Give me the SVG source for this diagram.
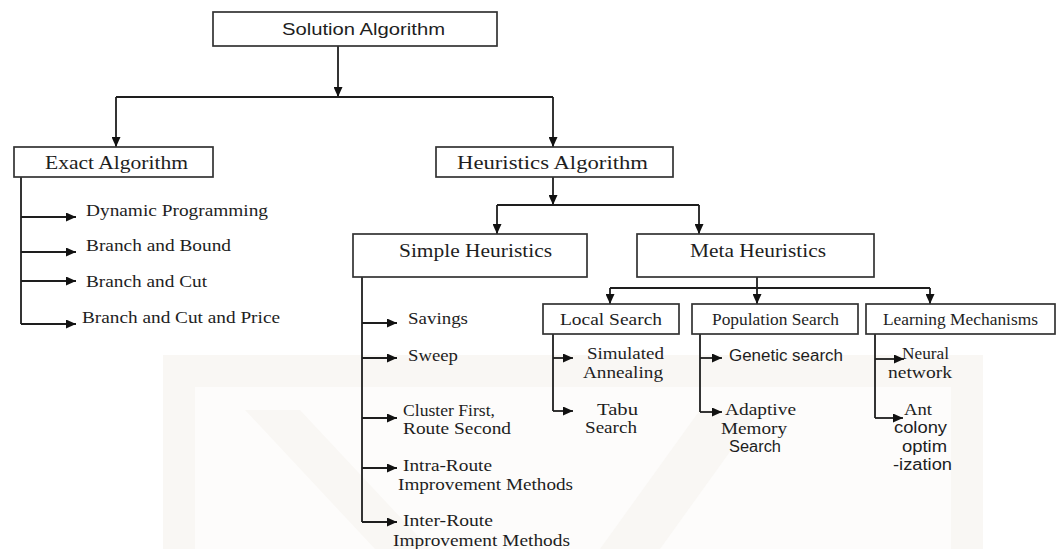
<svg xmlns="http://www.w3.org/2000/svg" width="1056" height="549" viewBox="0 0 1056 549">
<defs>
<marker id="ah" markerUnits="userSpaceOnUse" markerWidth="11" markerHeight="9" refX="10" refY="4.5" orient="auto">
<path d="M0,0 L10,4.5 L0,9 z" fill="#111"/>
</marker>
<style>
.box{fill:#fff;stroke:#333;stroke-width:1.7}
.ln{fill:none;stroke:#1e1e1e;stroke-width:1.8}
.ar{fill:none;stroke:#1e1e1e;stroke-width:1.8;marker-end:url(#ah)}
.s{font-family:"Liberation Serif","Times New Roman",serif;font-size:17.5px;fill:#1e1e1e}
.t{font-family:"Liberation Serif","Times New Roman",serif;font-size:16px;fill:#1e1e1e}
.b{font-family:"Liberation Serif","Times New Roman",serif;font-size:18px;fill:#1e1e1e}
.ss{font-family:"Liberation Sans",Arial,sans-serif;font-size:16px;fill:#1e1e1e}
.wm{fill:#f9f7f4}
.wm2{fill:#fdfcfb}
</style>
</defs>
<rect width="1056" height="549" fill="#fff"/>
<g id="watermark">
<rect class="wm" x="163" y="355" width="820" height="194"/>
<rect class="wm2" x="195" y="387" width="756" height="162"/>
<polygon class="wm" points="245,410 300,410 430,549 375,549"/>
<polygon class="wm" points="600,549 700,410 760,410 660,549"/>
</g>
<g id="connectors">
<path class="ar" d="M338 46 V97"/>
<path class="ln" d="M116 97 H553"/>
<path class="ar" d="M116 97 V147"/>
<path class="ar" d="M553 97 V147"/>
<path class="ln" d="M21 177 V324"/>
<path class="ar" d="M21 217 H76"/>
<path class="ar" d="M21 252 H76"/>
<path class="ar" d="M21 281 H76"/>
<path class="ar" d="M21 324 H76"/>
<path class="ar" d="M553 177 V205"/>
<path class="ln" d="M497 205 H699"/>
<path class="ar" d="M497 205 V234"/>
<path class="ar" d="M699 205 V234"/>
<path class="ln" d="M362 277 V522"/>
<path class="ar" d="M362 323 H397"/>
<path class="ar" d="M362 358 H397"/>
<path class="ar" d="M362 418 H397"/>
<path class="ar" d="M362 468 H397"/>
<path class="ar" d="M362 522 H397"/>
<path class="ar" d="M757 277 V304"/>
<path class="ln" d="M610 288 H930"/>
<path class="ar" d="M610 288 V304"/>
<path class="ar" d="M930 288 V304"/>
<path class="ln" d="M553 334 V411"/>
<path class="ar" d="M553 358 H573"/>
<path class="ar" d="M553 411 H573"/>
<path class="ln" d="M700 334 V412"/>
<path class="ar" d="M700 358 H722"/>
<path class="ar" d="M700 412 H722"/>
<path class="ln" d="M875 334 V418"/>
<path class="ar" d="M875 359 H904"/>
<path class="ar" d="M875 418 H903"/>
</g>
<g id="solution">
<rect class="box" x="213" y="12" width="284" height="34"/>
<text class="ss" x="282" y="35" textLength="163" lengthAdjust="spacingAndGlyphs">Solution Algorithm</text>
</g>
<g id="exact">
<rect class="box" x="14" y="147" width="199" height="30"/>
<text class="b" x="45" y="169" textLength="143" lengthAdjust="spacingAndGlyphs">Exact Algorithm</text>
</g>
<g id="heuristics">
<rect class="box" x="436" y="147" width="237" height="30"/>
<text class="b" x="457" y="169" textLength="191" lengthAdjust="spacingAndGlyphs">Heuristics Algorithm</text>
</g>
<g id="exact-items">
<text class="s" x="86" y="216" textLength="182" lengthAdjust="spacingAndGlyphs">Dynamic Programming</text>
<text class="s" x="86" y="251" textLength="145" lengthAdjust="spacingAndGlyphs">Branch and Bound</text>
<text class="s" x="86" y="287" textLength="121" lengthAdjust="spacingAndGlyphs">Branch and Cut</text>
<text class="s" x="82" y="323" textLength="198" lengthAdjust="spacingAndGlyphs">Branch and Cut and Price</text>
</g>
<g id="simple">
<rect class="box" x="353" y="234" width="234" height="43"/>
<text class="b" x="399" y="257" textLength="153" lengthAdjust="spacingAndGlyphs">Simple Heuristics</text>
</g>
<g id="meta">
<rect class="box" x="637" y="234" width="237" height="43"/>
<text class="b" x="690" y="257" textLength="136" lengthAdjust="spacingAndGlyphs">Meta Heuristics</text>
</g>
<g id="simple-items">
<text class="s" x="408" y="324" textLength="60" lengthAdjust="spacingAndGlyphs">Savings</text>
<text class="s" x="408" y="361" textLength="50" lengthAdjust="spacingAndGlyphs">Sweep</text>
<text class="s" x="403" y="416" textLength="92" lengthAdjust="spacingAndGlyphs">Cluster First,</text>
<text class="s" x="403" y="434" textLength="108" lengthAdjust="spacingAndGlyphs">Route Second</text>
<text class="s" x="403" y="471" textLength="89" lengthAdjust="spacingAndGlyphs">Intra-Route</text>
<text class="s" x="398" y="490" textLength="175" lengthAdjust="spacingAndGlyphs">Improvement Methods</text>
<text class="s" x="403" y="526" textLength="90" lengthAdjust="spacingAndGlyphs">Inter-Route</text>
<text class="s" x="393" y="546" textLength="177" lengthAdjust="spacingAndGlyphs">Improvement Methods</text>
</g>
<g id="local">
<rect class="box" x="543" y="304" width="136" height="30"/>
<text class="s" x="560" y="325" textLength="102" lengthAdjust="spacingAndGlyphs">Local Search</text>
<text class="t" x="587" y="359" textLength="77" lengthAdjust="spacingAndGlyphs">Simulated</text>
<text class="t" x="583" y="378" textLength="80" lengthAdjust="spacingAndGlyphs">Annealing</text>
<text class="s" x="597" y="415" textLength="41" lengthAdjust="spacingAndGlyphs">Tabu</text>
<text class="s" x="585" y="433" textLength="52" lengthAdjust="spacingAndGlyphs">Search</text>
</g>
<g id="population">
<rect class="box" x="692" y="304" width="166" height="30"/>
<text class="s" x="712" y="325" textLength="127" lengthAdjust="spacingAndGlyphs">Population Search</text>
<text class="ss" x="729" y="361" textLength="114" lengthAdjust="spacingAndGlyphs">Genetic search</text>
<text class="s" x="725" y="415" textLength="71" lengthAdjust="spacingAndGlyphs">Adaptive</text>
<text class="s" x="721" y="434" textLength="66" lengthAdjust="spacingAndGlyphs">Memory</text>
<text class="ss" x="729" y="452" textLength="52" lengthAdjust="spacingAndGlyphs">Search</text>
</g>
<g id="learning">
<rect class="box" x="866" y="304" width="189" height="30"/>
<text class="s" x="883" y="325" textLength="155" lengthAdjust="spacingAndGlyphs">Learning Mechanisms</text>
<text class="t" x="902" y="359" textLength="47" lengthAdjust="spacingAndGlyphs">Neural</text>
<text class="t" x="888" y="378" textLength="64" lengthAdjust="spacingAndGlyphs">network</text>
<text class="s" x="904" y="415" textLength="28" lengthAdjust="spacingAndGlyphs">Ant</text>
<text class="ss" x="894" y="433" textLength="53" lengthAdjust="spacingAndGlyphs">colony</text>
<text class="ss" x="902" y="452" textLength="45" lengthAdjust="spacingAndGlyphs">optim</text>
<text class="ss" x="893" y="470" textLength="59" lengthAdjust="spacingAndGlyphs">-ization</text>
</g>
</svg>
